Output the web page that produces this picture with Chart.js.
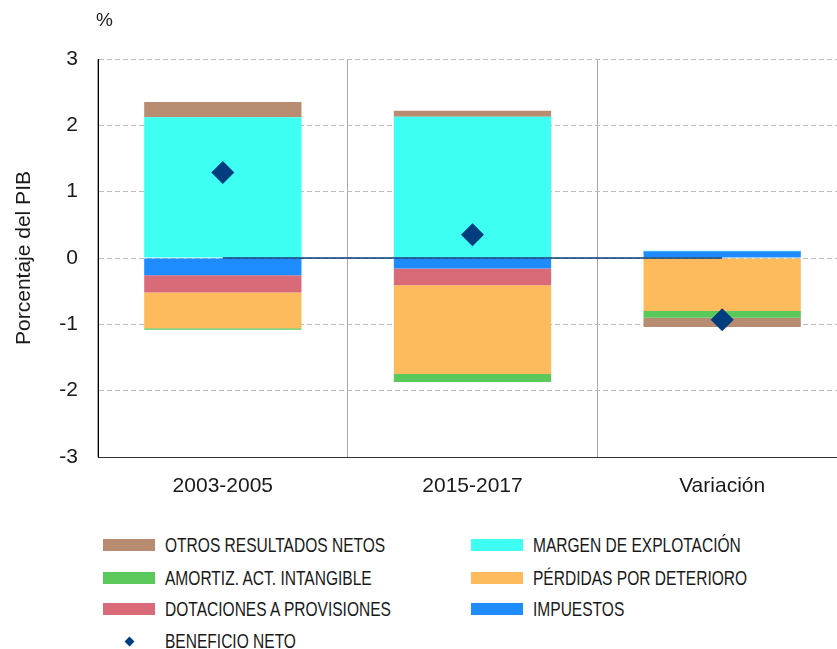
<!DOCTYPE html>
<html>
<head>
<meta charset="utf-8">
<script src="https://cdn.jsdelivr.net/npm/chart.js@4.4.0/dist/chart.umd.min.js"></script>
<style>
    body { margin: 0; width: 837px; height: 649px; overflow: hidden; background: #fff; font-family: "Liberation Sans", Arial, sans-serif; }
    #wrap { position: absolute; left: 0; top: 0; width: 860px; height: 500px; }
    #pct { position: absolute; left: 96px; top: 9px; font-size: 19px; color: #222; }
    .lg { position: absolute; height: 24px; display: flex; align-items: center; font-size: 21px; color: #1a1a1a; white-space: nowrap; }
    .lg .tx { display: inline-block; transform: scaleX(0.74); transform-origin: left center; }
    .sw { width: 52px; height: 12px; margin-right: 10px; }
    .dm { width: 52px; margin-right: 10px; display: flex; justify-content: center; }
    .dm span { width: 7px; height: 7px; transform: rotate(45deg); }
</style>
</head>
<body>
<div id="wrap"><canvas id="chart" width="860" height="500"></canvas></div>
<div id="pct">%</div>
<div id="legend"></div>
<script>
// Data (porcentaje del PIB)
const categories = ['2003-2005', '2015-2017', 'Variación'];
const impuestos  = [-0.26, -0.16, 0.10];
const margen     = [2.12, 2.13, 0.01];
const dotaciones = [-0.26, -0.25, 0.00];
const perdidas   = [-0.54, -1.34, -0.80];
const amortiz    = [-0.02, -0.12, -0.10];
const otros      = [0.23, 0.09, -0.14];
const beneficio  = [1.29, 0.35, -0.93];
const yTicks     = [-3, -2, -1, 0, 1, 2, 3];

const NET_COLOR = '#003d7e';

function barSet(label, data, color) {
    return { type: 'bar', label, data, backgroundColor: color, borderWidth: 0, stack: 'main' };
}

const datasets = [
    barSet('IMPUESTOS', impuestos, '#1e8cff'),
    barSet('MARGEN DE EXPLOTACIÓN', margen, '#3dfff2'),
    barSet('DOTACIONES A PROVISIONES', dotaciones, '#d96b78'),
    barSet('PÉRDIDAS POR DETERIORO', perdidas, '#fdbb5e'),
    barSet('AMORTIZ. ACT. INTANGIBLE', amortiz, '#5bc85b'),
    barSet('OTROS RESULTADOS NETOS', otros, '#b78c70'),
    {
        type: 'line', label: 'zero', data: categories.map(() => 0), stack: 'zero', order: -1,
        borderColor: NET_COLOR, borderWidth: 1.6, pointRadius: 0, fill: false
    },
    {
        type: 'line', label: 'BENEFICIO NETO', data: beneficio, stack: 'net', order: -2,
        showLine: false, pointStyle: 'rectRot', pointRadius: 11.5, pointHoverRadius: 11.5,
        backgroundColor: NET_COLOR, borderColor: NET_COLOR, borderWidth: 0
    }
];

const chart = new Chart(document.getElementById('chart'), {
    data: { labels: categories, datasets },
    options: {
        responsive: false,
        animation: false,
        layout: { padding: { top: 59, right: 13, left: 0, bottom: 0 } },
        datasets: { bar: { barPercentage: 1, categoryPercentage: 0.63 } },
        plugins: { legend: { display: false }, tooltip: { enabled: false } },
        scales: {
            x: {
                stacked: true,
                afterFit: s => { s.height = 43; },
                grid: { offset: true, color: '#a8a8a8', lineWidth: 1, drawTicks: false },
                border: { color: '#333', width: 1 },
                ticks: { color: '#1a1a1a', font: { size: 21, family: '"Liberation Sans", Arial' }, padding: 17 }
            },
            y: {
                stacked: true,
                min: -3, max: 3,
                afterFit: s => { s.width = 98; },
                afterBuildTicks: s => { s.ticks = yTicks.map(v => ({ value: v })); },
                grid: { color: '#bcbcbc', lineWidth: 1, drawTicks: false },
                border: { color: '#000', width: 1, dash: [5, 3] },
                ticks: { color: '#1a1a1a', font: { size: 21, family: '"Liberation Sans", Arial' }, padding: 20 },
                title: {
                    display: true, text: 'Porcentaje del PIB', color: '#1a1a1a',
                    font: { size: 21, family: '"Liberation Sans", Arial' }, padding: { top: 12, bottom: 0 }
                }
            }
        }
    }
});

// Legend (two columns, as in the original)
const legendRows = [
    ['OTROS RESULTADOS NETOS', 'MARGEN DE EXPLOTACIÓN'],
    ['AMORTIZ. ACT. INTANGIBLE', 'PÉRDIDAS POR DETERIORO'],
    ['DOTACIONES A PROVISIONES', 'IMPUESTOS'],
    ['BENEFICIO NETO']
];
const rowY = [533, 566, 597, 629];
const colX = [103, 471];
const legendEl = document.getElementById('legend');
legendRows.forEach((row, r) => {
    row.forEach((label, c) => {
        const ds = chart.data.datasets.find(d => d.label === label);
        const item = document.createElement('div');
        item.className = 'lg';
        item.style.left = colX[c] + 'px';
        item.style.top = rowY[r] + 'px';
        if (ds.type === 'line') {
            item.innerHTML = '<div class="dm"><span style="background:' + ds.backgroundColor + '"></span></div>';
        } else {
            item.innerHTML = '<div class="sw" style="background:' + ds.backgroundColor + '"></div>';
        }
        const t = document.createElement('span');
        t.className = 'tx';
        t.textContent = label;
        item.appendChild(t);
        legendEl.appendChild(item);
    });
});
</script>
</body>
</html>
